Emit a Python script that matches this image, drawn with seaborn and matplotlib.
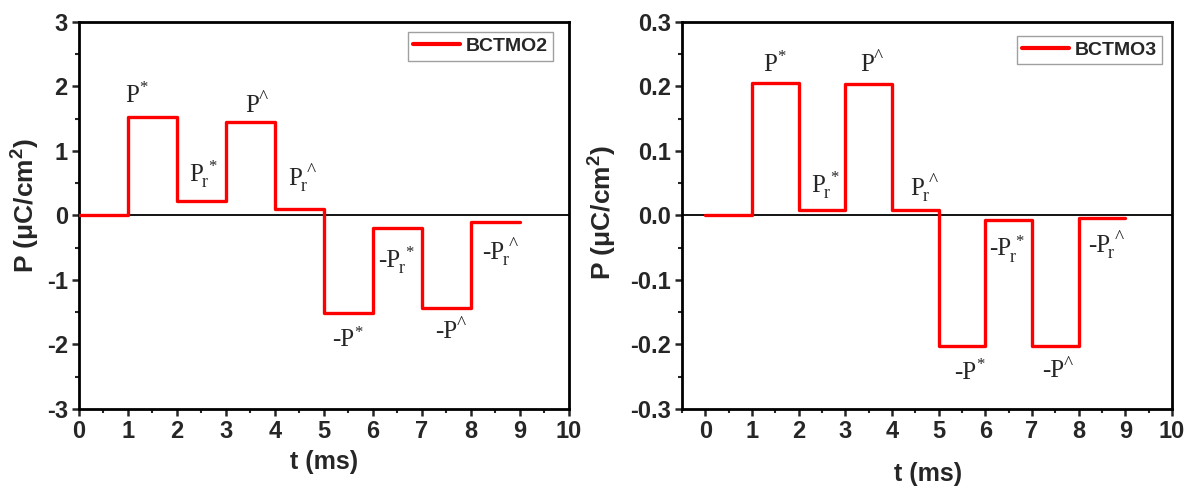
import matplotlib
matplotlib.use("Agg")
import matplotlib.pyplot as plt
from matplotlib.ticker import MultipleLocator, FormatStrFormatter
import seaborn as sns
import pandas as pd

# Pulse sequence time points (ms)
t_ms = [0, 1, 2, 3, 4, 5, 6, 7, 8, 9]

# Polarization for each 1 ms interval ending at t (steps-pre), uC/cm^2
p_bctmo2 = [0.0, 0.0, 1.52, 0.22, 1.45, 0.10, -1.51, -0.20, -1.44, -0.10]
p_bctmo3 = [0.0, 0.0, 0.205, 0.0088, 0.204, 0.0078, -0.203, -0.0067, -0.202, -0.004]

# Pulse labels: (sign prefix, subscript, superscript)
label_parts = [
    ("", None, "*"), ("", "r", "*"), ("", None, "^"), ("", "r", "^"),
    ("-", None, "*"), ("-", "r", "*"), ("-", None, "^"), ("-", "r", "^"),
]
# base "P" centre (t) and baseline (P) of each label
lab2_t = [1.09, 2.40, 3.54, 4.41, 5.40, 6.33, 7.50, 8.45]
lab2_p = [1.76, 0.54, 1.61, 0.47, -2.03, -0.80, -1.90, -0.67]
lab3_t = [1.39, 2.42, 3.47, 4.54, 5.57, 6.31, 7.45, 8.43]
lab3_p = [0.224, 0.036, 0.224, 0.032, -0.254, -0.062, -0.251, -0.057]

sns.set_style("ticks")
plt.rcParams["font.family"] = ["Liberation Sans", "DejaVu Sans"]
plt.rcParams["axes.unicode_minus"] = False
plt.rcParams["mathtext.fontset"] = "custom"
plt.rcParams["mathtext.rm"] = "Liberation Sans:bold"
plt.rcParams["mathtext.bf"] = "Liberation Sans:bold"

SERIF = "Liberation Serif"
TXT = "#262626"


def pulse_label(ax, x, y, sign, sub, sup):
    base = ax.text(x, y, sign + "P", fontsize=18, family=SERIF, color=TXT,
                   ha="center", va="baseline")
    right = base
    if sub:
        right = ax.annotate(sub, xy=(1, 0), xycoords=base, xytext=(-1.2, -0.8),
                            textcoords="offset points", fontsize=13,
                            family=SERIF, color=TXT, ha="left", va="baseline")
    dx = 0.2 if sub else -0.3
    size = 14 if sup == "^" else 12
    ax.annotate(sup, xy=(1, 1), xycoords=(right, base), xytext=(dx, 3.5),
                textcoords="offset points", fontsize=size, family=SERIF,
                color=TXT, ha="left", va="top")


fig = plt.figure(figsize=(11.89, 4.92), dpi=100)
ax1 = fig.add_axes([0.0664, 0.1687, 0.4121, 0.7866])
ax2 = fig.add_axes([0.5736, 0.1687, 0.4121, 0.7866])

panels = [
    dict(ax=ax1, vals=p_bctmo2, name="BCTMO2", xl=(0, 10), yl=(-3, 3), ymaj=1,
         ymin=0.5, yfmt="%d", lt=lab2_t, lp=lab2_p, xlab=(0.5, -0.137),
         ylab=(-0.108, 0.525), leg=(0.968, 0.974)),
    dict(ax=ax2, vals=p_bctmo3, name="BCTMO3", xl=(-0.5, 10), yl=(-0.3, 0.3),
         ymaj=0.1, ymin=0.05, yfmt="%.1f", lt=lab3_t, lp=lab3_p,
         xlab=(0.502, -0.167), ylab=(-0.161, 0.509), leg=(0.980, 0.964)),
]

for pnl in panels:
    ax = pnl["ax"]
    df = pd.DataFrame({"t": t_ms, "P": pnl["vals"], "sample": pnl["name"]})
    ax.axhline(0, color="black", lw=1.3, zorder=1)
    sns.lineplot(data=df, x="t", y="P", hue="sample", palette=["#ff0000"],
                 estimator=None, sort=False, drawstyle="steps-pre",
                 lw=2.4, ax=ax, zorder=3)
    for (sign, sub, sup), tx, py in zip(label_parts, pnl["lt"], pnl["lp"]):
        pulse_label(ax, tx, py, sign, sub, sup)
    ax.set_xlim(*pnl["xl"])
    ax.set_ylim(*pnl["yl"])
    ax.xaxis.set_major_locator(MultipleLocator(1))
    ax.xaxis.set_minor_locator(MultipleLocator(0.5))
    ax.yaxis.set_major_locator(MultipleLocator(pnl["ymaj"]))
    ax.yaxis.set_minor_locator(MultipleLocator(pnl["ymin"]))
    ax.yaxis.set_major_formatter(FormatStrFormatter(pnl["yfmt"]))
    ax.tick_params(which="major", direction="out", length=5, width=1.8,
                   labelsize=17, top=False, right=False, pad=3)
    ax.tick_params(which="minor", direction="out", length=3, width=1.5,
                   top=False, right=False)
    for lbl in ax.get_xticklabels() + ax.get_yticklabels():
        lbl.set_fontweight("bold")
    for sp in ax.spines.values():
        sp.set_linewidth(2.0)
        sp.set_color("black")
    ax.set_xlabel("t (ms)", fontsize=18, fontweight="bold", va="center")
    ax.xaxis.set_label_coords(*pnl["xlab"])
    ax.set_ylabel(r"P ($\mathbf{\mu}$C/cm$\mathbf{^2}$)", fontsize=19,
                  fontweight="bold", va="center")
    ax.yaxis.set_label_coords(*pnl["ylab"])
    ax.grid(False)
    leg = ax.legend(loc="upper right", frameon=True, fancybox=False,
                    handlelength=2.4, handletextpad=0.3, borderpad=0.28,
                    borderaxespad=0,
                    prop={"weight": "bold", "size": 14, "family": "Liberation Sans"},
                    bbox_to_anchor=pnl["leg"])
    leg.get_frame().set_edgecolor("#888888")
    leg.get_frame().set_linewidth(1.0)
    for h in leg.get_lines():
        h.set_linewidth(3)

fig.savefig("out.png", dpi=100, facecolor="white")
